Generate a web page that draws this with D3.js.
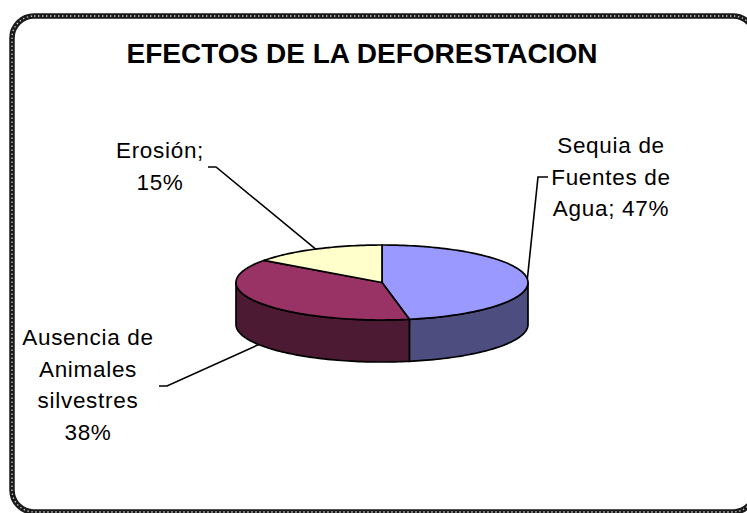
<!DOCTYPE html>
<html>
<head>
<meta charset="utf-8">
<script src="https://cdn.jsdelivr.net/npm/d3@7"></script>
<style>
  body { margin: 0; background: #fff; }
  text { font-family: "Liberation Sans", Arial, sans-serif; fill: #000; }
</style>
</head>
<body>
<div id="chart"></div>
<script>
// data
const title = "EFECTOS DE LA DEFORESTACION"
const categories = ["Sequia de Fuentes de Agua", "Ausencia de Animales silvestres", "Erosión"]
const values = [47, 38, 15]
const labelLines = [
  ["Sequia de", "Fuentes de", "Agua; 47%"],
  ["Ausencia de", "Animales", "silvestres", "38%"],
  ["Erosión;", "15%"]
]

// layout / style
const width = 747
const height = 513
const cx = 382, cy = 282.5, rx = 146, ry = 37.5, depth = 42
const topColor = d3.scaleOrdinal().domain(categories).range(["#9999FF", "#993366", "#FFFFCC"])
const sideColor = d3.scaleOrdinal().domain(categories).range(["#4D4D80", "#4D1A33", "#80806A"])
// label block centre, first baseline, elbow of leader line and its end
const labelLayout = [
  {x: 611, y: 153, elbow: [538, 177], end: [548, 177]},
  {x: 88, y: 345, elbow: [167, 386], end: [159, 386]},
  {x: 160, y: 158, elbow: [216, 167], end: [208, 167]}
]
const lineGap = 31.5

const svg = d3.select("#chart").append("svg")
  .attr("width", width)
  .attr("height", height)

// frame
const frame = {x: 12, y: 16, w: 743, h: 496, r: 22}
svg.append("rect")
  .attr("x", frame.x).attr("y", frame.y)
  .attr("width", frame.w).attr("height", frame.h)
  .attr("rx", frame.r)
  .attr("fill", "#fff")
  .attr("stroke", "#1a1a1a")
  .attr("stroke-width", 5.5)
svg.append("rect")
  .attr("x", frame.x).attr("y", frame.y)
  .attr("width", frame.w).attr("height", frame.h)
  .attr("rx", frame.r)
  .attr("fill", "none")
  .attr("stroke", "#d0d0d0")
  .attr("stroke-width", 1.3)
  .attr("stroke-dasharray", "1.4 2.6")

svg.append("text")
  .attr("x", 362)
  .attr("y", 63)
  .attr("text-anchor", "middle")
  .style("font-weight", "bold")
  .style("font-size", "28px")
  .text(title)

const pt = (a, dy = 0) => [cx + rx * Math.sin(a), cy - ry * Math.cos(a) + dy]
const arcPoints = (a0, a1, dy = 0) => {
  const n = Math.max(2, Math.ceil(Math.abs(a1 - a0) * 40))
  return d3.range(n + 1).map(i => pt(a0 + (a1 - a0) * i / n, dy))
}
const line = d3.line()

const arcs = d3.pie().sort(null).value(d => d)(values)

// sides (front half only)
const g = svg.append("g")
arcs.forEach((d, i) => {
  const lo = Math.max(d.startAngle, Math.PI / 2)
  const hi = Math.min(d.endAngle, 3 * Math.PI / 2)
  if (lo >= hi) return
  const pts = arcPoints(lo, hi).concat(arcPoints(hi, lo, depth))
  g.append("path")
    .attr("d", line(pts) + "Z")
    .attr("fill", sideColor(categories[i]))
    .attr("stroke", "#000")
    .attr("stroke-width", 1.7)
    .attr("stroke-linejoin", "round")
})

// top faces
arcs.forEach((d, i) => {
  const pts = [[cx, cy]].concat(arcPoints(d.startAngle, d.endAngle))
  g.append("path")
    .attr("d", line(pts) + "Z")
    .attr("fill", topColor(categories[i]))
    .attr("stroke", "#000")
    .attr("stroke-width", 1.7)
    .attr("stroke-linejoin", "round")
})

// leader lines + labels
arcs.forEach((d, i) => {
  const mid = (d.startAngle + d.endAngle) / 2
  const front = Math.cos(mid) < 0
  const anchor = pt(mid, front ? depth : 0)
  const lay = labelLayout[i]
  svg.append("path")
    .attr("d", line([anchor, lay.elbow, lay.end]))
    .attr("fill", "none")
    .attr("stroke", "#000")
    .attr("stroke-width", 1.6)

  const t = svg.append("text")
    .attr("text-anchor", "middle")
    .style("font-size", "22.5px")
    .style("letter-spacing", "0.7px")
  t.selectAll("tspan")
    .data(labelLines[i])
    .join("tspan")
      .attr("x", lay.x)
      .attr("y", (s, j) => lay.y + j * lineGap)
      .text(s => s)
})
</script>
</body>
</html>
